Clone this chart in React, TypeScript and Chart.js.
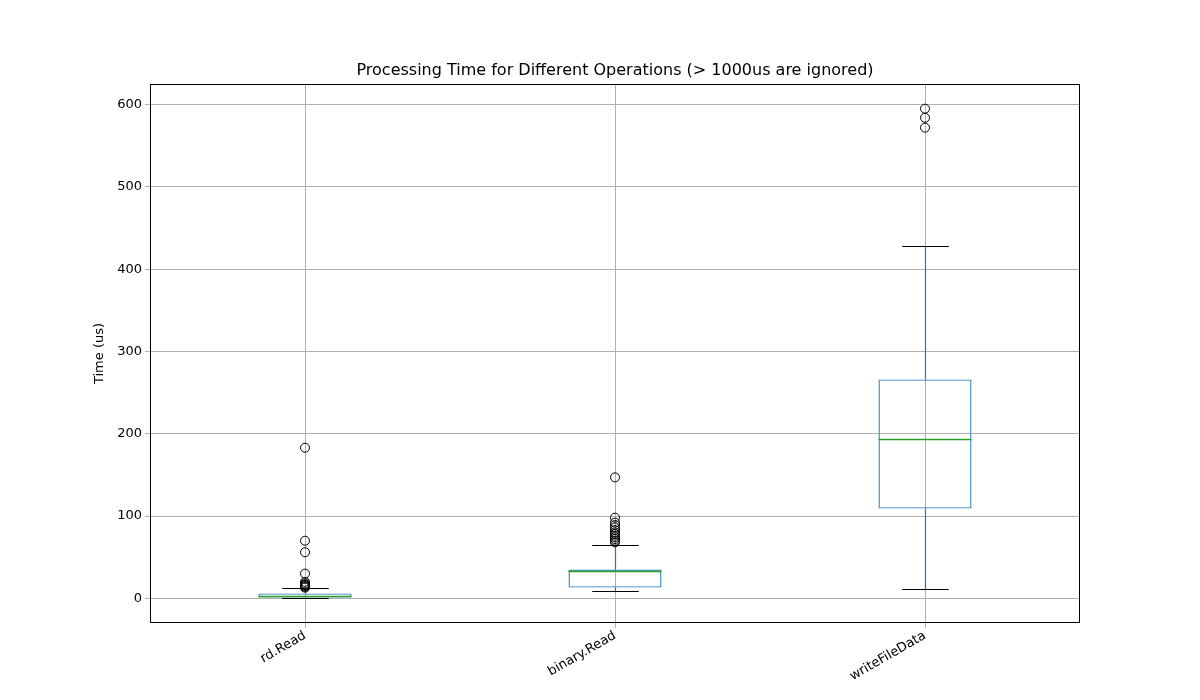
import { useEffect, useRef } from 'react';
import { Chart, registerables } from 'chart.js';

Chart.register(...registerables);

const OPS = ['rd.Read', 'binary.Read', 'writeFileData'];
const Q1 = [1, 13, 109];
const MEDIAN = [3, 33, 194];
const Q3 = [6, 35, 266];
const WHISK_LO = [0, 9, 11];
const WHISK_HI = [12, 65, 428];
const OUTLIERS = [
  [183, 70, 56, 30, 20, 18, 17, 16, 15, 14, 13],
  [147, 98, 92, 89, 86, 83, 80, 78, 76, 74, 72, 70, 68],
  [572, 584, 595],
];
const Y_TICKS = [0, 100, 200, 300, 400, 500, 600];
const TITLE = 'Processing Time for Different Operations (> 1000us are ignored)';

const boxParts = {
  id: 'boxParts',
  beforeDatasetsDraw(chart: any) {
    const { ctx, scales } = chart;
    const x = scales.x, y = scales.y;
    const half = x.width / OPS.length * 0.3 / 2;
    ctx.save();
    ctx.lineWidth = 1.2;
    OPS.forEach((_, i) => {
      const cx = Math.round(x.getPixelForValue(i)) + 0.5;
      ctx.strokeStyle = '#1f77b4';
      ctx.beginPath();
      ctx.moveTo(cx, y.getPixelForValue(WHISK_LO[i]));
      ctx.lineTo(cx, y.getPixelForValue(Q1[i]));
      ctx.moveTo(cx, y.getPixelForValue(Q3[i]));
      ctx.lineTo(cx, y.getPixelForValue(WHISK_HI[i]));
      ctx.stroke();
      ctx.strokeStyle = '#000';
      ctx.beginPath();
      [WHISK_LO[i], WHISK_HI[i]].forEach(v => {
        const py = Math.round(y.getPixelForValue(v)) + 0.5;
        ctx.moveTo(cx - half / 2, py);
        ctx.lineTo(cx + half / 2, py);
      });
      ctx.stroke();
    });
    ctx.restore();
  },
  afterDatasetsDraw(chart: any) {
    const { ctx, scales, chartArea } = chart;
    const x = scales.x, y = scales.y;
    const half = x.width / OPS.length * 0.3 / 2;
    ctx.save();
    ctx.lineWidth = 1.3;
    ctx.strokeStyle = '#2ca02c';
    OPS.forEach((_, i) => {
      const cx = x.getPixelForValue(i);
      const py = Math.round(y.getPixelForValue(MEDIAN[i])) + 0.5;
      ctx.beginPath();
      ctx.moveTo(cx - half, py);
      ctx.lineTo(cx + half, py);
      ctx.stroke();
    });
    ctx.lineWidth = 1;
    ctx.strokeStyle = '#000';
    ctx.strokeRect(chartArea.left + 0.5, chartArea.top + 0.5, chartArea.width - 1, chartArea.height - 1);
    ctx.fillStyle = '#000';
    ctx.font = '16px "DejaVu Sans"';
    ctx.textAlign = 'center';
    ctx.textBaseline = 'bottom';
    ctx.fillText(TITLE, (chartArea.left + chartArea.right) / 2, chartArea.top - 5);
    ctx.restore();
  },
};

export default function App() {
  const ref = useRef<HTMLCanvasElement>(null);

  useEffect(() => {
    if (!ref.current) return;
    document.body.style.margin = '0';
    const outlierPts = OUTLIERS.flatMap((list, i) => list.map(v => ({ x: OPS[i], y: v })));
    const chart = new Chart(ref.current.getContext('2d')!, {
      type: 'bar',
      data: {
        labels: OPS,
        datasets: [
          {
            type: 'bar',
            data: OPS.map((_, i) => [Q1[i], Q3[i]]) as any,
            backgroundColor: 'rgba(0,0,0,0)',
            borderColor: '#1f77b4',
            borderWidth: 1.2,
            borderSkipped: false,
            barPercentage: 0.3,
            categoryPercentage: 1,
          },
          {
            type: 'line',
            data: outlierPts as any,
            showLine: false,
            pointRadius: 4.5,
            pointBackgroundColor: 'rgba(0,0,0,0)',
            pointBorderColor: '#000',
            pointBorderWidth: 1,
          },
        ],
      },
      options: {
        animation: false,
        responsive: false,
        layout: { padding: { left: 88, right: 120, top: 84, bottom: 0 } },
        plugins: {
          legend: { display: false },
          tooltip: { enabled: false },
          title: { display: false },
        },
        scales: {
          x: {
            offset: true,
            grid: { offset: false, color: '#b0b0b0', tickLength: 5 },
            border: { display: false },
            ticks: { color: '#000', font: { family: 'DejaVu Sans', size: 13 }, maxRotation: 30, minRotation: 30, padding: 0 },
            afterFit: (s: any) => { s.height = 77; },
          },
          y: {
            min: -30,
            max: 625,
            grid: { color: '#b0b0b0', tickLength: 5 },
            border: { display: false },
            ticks: { color: '#000', font: { family: 'DejaVu Sans', size: 13 } },
            afterBuildTicks: (s: any) => { s.ticks = Y_TICKS.map(v => ({ value: v })); },
            title: { display: true, text: 'Time (us)', color: '#000', font: { family: 'DejaVu Sans', size: 13 } },
            afterFit: (s: any) => { s.width = 62; },
          },
        },
      },
      plugins: [boxParts],
    });
    return () => chart.destroy();
  }, []);

  return <canvas ref={ref} width={1200} height={700} style={{ display: 'block', background: '#fff' }} />;
}
